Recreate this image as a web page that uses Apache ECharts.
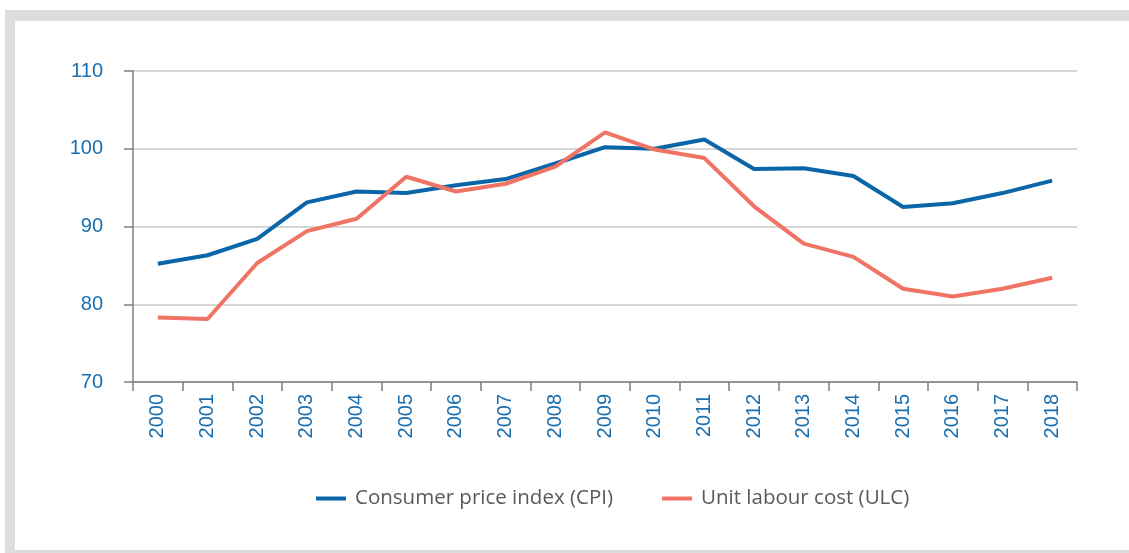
<!DOCTYPE html>
<html>
<head>
<meta charset="utf-8">
<script src="https://cdn.jsdelivr.net/npm/echarts@6/dist/echarts.min.js"></script>
<style>
html,body{margin:0;padding:0;background:#fff;overflow:hidden;}
#frame{position:absolute;left:5px;top:10px;width:1300px;height:529px;border-style:solid;border-color:#dcdddf;border-width:11px 10px 11px 10px;}
#chart{position:absolute;left:0;top:0;width:1129px;height:553px;}
</style>
</head>
<body>
<div id="frame"></div>
<div id="chart"></div>
<script>
const categories = ['2000','2001','2002','2003','2004','2005','2006','2007','2008','2009','2010','2011','2012','2013','2014','2015','2016','2017','2018'];
const cpi = [85.2, 86.3, 88.4, 93.1, 94.5, 94.3, 95.3, 96.1, 98.1, 100.2, 100.0, 101.2, 97.4, 97.5, 96.5, 92.5, 93.0, 94.3, 95.9];
const ulc = [78.3, 78.1, 85.3, 89.4, 91.0, 96.4, 94.5, 95.5, 97.7, 102.1, 99.9, 98.8, 92.6, 87.8, 86.1, 82.0, 81.0, 82.0, 83.4];
const yTicks = [70, 80, 90, 100, 110];

const chart = echarts.init(document.getElementById('chart'), null, {renderer:'canvas'});
chart.setOption({
  backgroundColor: 'transparent',
  animation: false,
  grid: {left: 133, right: 52, top: 71, bottom: 171, containLabel: false},
  legend: {
    top: 483,
    left: 311,
    itemWidth: 30,
    itemHeight: 4,
    itemGap: 49,
    icon: 'rect',
    textStyle: {color: '#595959', fontSize: 20.5, fontFamily: 'Open Sans', padding: [0, 0, 0, 4]},
    data: ['Consumer price index (CPI)', 'Unit labour cost (ULC)']
  },
  xAxis: {
    type: 'category',
    data: categories,
    boundaryGap: true,
    axisLine: {lineStyle: {color: '#7f7f7f', width: 1.5}},
    axisTick: {show: true, length: 9, lineStyle: {color: '#7f7f7f', width: 1.5}},
    axisLabel: {rotate: 90, margin: 12, color: '#1a6fb0', fontSize: 20, fontFamily: 'Liberation Sans'}
  },
  yAxis: {
    type: 'value',
    min: yTicks[0],
    max: yTicks[yTicks.length - 1],
    interval: 10,
    axisLine: {show: true, lineStyle: {color: '#7f7f7f', width: 1.5}},
    axisTick: {show: true, length: 9, lineStyle: {color: '#7f7f7f', width: 1.5}},
    axisLabel: {margin: 30, color: '#1a6fb0', fontSize: 20, fontFamily: 'Liberation Sans'},
    splitLine: {lineStyle: {color: '#c9c9c9', width: 1.5}}
  },
  series: [
    {
      name: 'Consumer price index (CPI)',
      type: 'line',
      data: cpi,
      symbol: 'none',
      itemStyle: {color: '#0a66a8'},
      lineStyle: {color: '#0a66a8', width: 4}
    },
    {
      name: 'Unit labour cost (ULC)',
      type: 'line',
      data: ulc,
      symbol: 'none',
      itemStyle: {color: '#f07464'},
      lineStyle: {color: '#f07464', width: 4}
    }
  ]
});
</script>
</body>
</html>
